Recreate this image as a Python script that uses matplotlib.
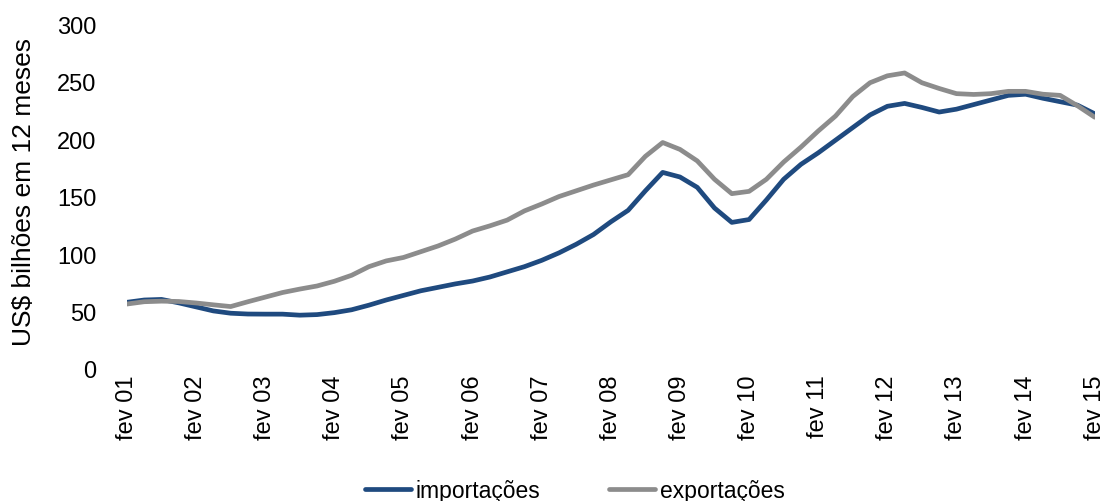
import numpy as np
import matplotlib.pyplot as plt

plt.rcParams['font.family'] = ['Liberation Sans', 'DejaVu Sans']

# quarterly readings (fev, mai, ago, nov), fev 01 .. fev 15
importacoes = [58, 60, 60.5, 57.5, 54, 50.5, 48.5, 47.8, 47.7, 47.7, 46.8, 47.3,
               49, 51.5, 55.5, 60, 64, 68, 71, 74, 76.5, 80, 84.5, 89,
               94.5, 101, 108.5, 117, 128, 138, 155, 171, 167, 158, 140, 127.5,
               130, 147, 165, 178, 188, 199, 210, 221, 228.5, 231, 227.5, 223.5,
               226, 230, 234, 238, 239, 235.5, 232.5, 229.5, 222]
exportacoes = [56.5, 58.5, 59, 58.7, 57.4, 55.8, 54.3, 58.5, 62.5, 66.5, 69.5, 72.2,
               76.3, 81.5, 89, 94, 97, 102, 107, 113, 120, 124.5, 129.5, 137.5,
               143.5, 150, 155, 160, 164.5, 169, 185, 197, 191, 181, 165, 152.5,
               154.5, 165, 180, 193, 207, 220, 237, 249, 255, 257.5, 249, 244,
               239.5, 238.8, 239.5, 241.5, 241.5, 239, 238, 229, 219]
anos = ['fev %02d' % a for a in range(1, 16)]

meses = np.arange(len(importacoes)) * 3

fig = plt.figure(figsize=(11.08, 5.02), dpi=100)
ax = fig.add_axes([0.1146, 0.263, 0.8734, 0.687])

ax.plot(meses, importacoes, color='#1F4A7F', lw=3.4, label='importações', solid_capstyle='round')
ax.plot(meses, exportacoes, color='#8C8C8C', lw=3.4, label='exportações', solid_capstyle='round')

ax.set_xlim(0, 168)
ax.set_ylim(0, 300)
ax.set_xticks(np.arange(0, 169, 12))
ax.set_xticklabels(anos, rotation=90)
ax.set_yticks(range(0, 301, 50))
ax.tick_params(length=0, labelsize=17, colors='black')
ax.tick_params(axis='y', pad=22)
ax.tick_params(axis='x', pad=4)
for s in ax.spines.values():
    s.set_visible(False)
ax.set_ylabel('US$ bilhões em 12 meses', fontsize=19)
ax.yaxis.set_label_coords(-0.094, 0.515)

fig.legend(loc='center', bbox_to_anchor=(0.519, 0.02), ncol=2, frameon=False,
           fontsize=16.5, handlelength=2.0, handletextpad=0.2, columnspacing=3.0)

fig.savefig('out.png', dpi=100)
